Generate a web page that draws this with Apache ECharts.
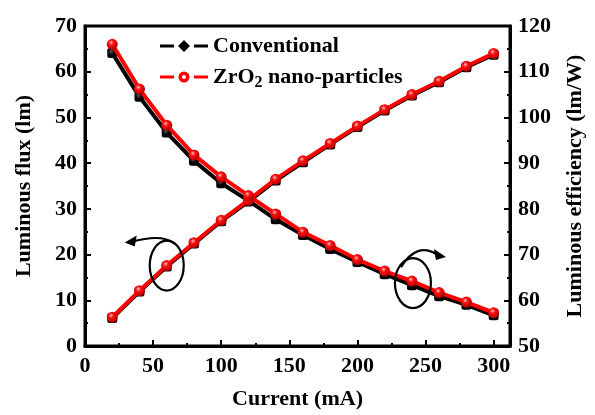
<!DOCTYPE html>
<html><head><meta charset="utf-8">
<script src="https://cdn.jsdelivr.net/npm/echarts@6/dist/echarts.min.js"></script>
<style>html,body{margin:0;padding:0;background:#fff}#c{width:595px;height:415px}</style>
</head><body><div id="c"></div>
<script>
const current = [20,40,60,80,100,120,140,160,180,200,220,240,260,280,300];
const fluxConv = [6.1,11.9,17.4,22.4,27.3,31.6,36.2,40.2,44.1,47.9,51.5,54.8,57.7,61.0,63.7];
const fluxZrO2 = [6.3,12.1,17.6,22.6,27.5,31.9,36.5,40.5,44.3,48.1,51.7,55.0,57.9,61.2,64.0];
const effConv = [114.1,104.5,96.7,90.5,85.6,81.8,77.7,74.3,71.2,68.4,65.7,63.3,60.9,59.0,56.7];
const effZrO2 = [116.0,106.2,98.3,91.8,87.0,82.9,78.9,74.9,72.0,68.9,66.4,64.2,61.7,59.6,57.3];
const xTicks = [0,50,100,150,200,250,300];
const leftTicks = [0,10,20,30,40,50,60,70];
const rightTicks = [50,60,70,80,90,100,110,120];

const F = '"Liberation Serif","Times New Roman",serif';
const chart = echarts.init(document.getElementById('c'), null, {renderer:'canvas'});
const redBall = {type:'radial',x:0.4,y:0.35,r:0.65,colorStops:[{offset:0,color:'#ffc0c0'},{offset:0.35,color:'#ff1010'},{offset:1,color:'#b00000'}]};
const blackBall = {type:'radial',x:0.4,y:0.35,r:0.7,colorStops:[{offset:0,color:'#555'},{offset:0.5,color:'#000'},{offset:1,color:'#000'}]};
const pair = (xs, ys) => xs.map((x,i)=>[x, ys[i]]);
const axisCommon = {
  axisLine:{show:true,lineStyle:{color:'#000',width:3}},
  axisTick:{show:true,inside:true,length:6,lineStyle:{color:'#000',width:2}},
  minorTick:{show:true,splitNumber:2,length:3,lineStyle:{color:'#000',width:2}},
  splitLine:{show:false},
  axisLabel:{color:'#000',fontFamily:F,fontWeight:'bold',fontSize:22},
  nameTextStyle:{color:'#000',fontFamily:F,fontWeight:'bold',fontSize:22}
};
const convIcon = 'path://M0,5 H14 V8 H0 Z M34,5 H48 V8 H34 Z M24,0.5 L30,6.5 L24,12.5 L18,6.5 Z';
const zrIcon = 'path://M0,5 H14 V8 H0 Z M34,5 H48 V8 H34 Z M24,1 A5.5,5.5 0 1 1 23.99,1 Z M24,4.5 A2,2 0 1 0 24.01,4.5 Z';
chart.setOption({
  animation:false,
  grid:{left:85,right:85,top:26,bottom:67,show:true,borderColor:'#000',borderWidth:3,containLabel:false},
  legend:{
    orient:'vertical',left:155,top:30,itemWidth:48,itemHeight:13,itemGap:9,
    data:[{name:'Conventional',icon:convIcon,itemStyle:{color:'#000'}},
          {name:'ZrO2 nano-particles',icon:zrIcon,itemStyle:{color:'#ff0000'}}],
    formatter:function(n){return n==='Conventional'?'{b|Conventional}':'{b|ZrO}{s|2}{b| nano-particles}';},
    textStyle:{rich:{
      b:{fontFamily:F,fontWeight:'bold',fontSize:22,color:'#000'},
      s:{fontFamily:F,fontWeight:'bold',fontSize:16,color:'#000',padding:[12,0,0,0]}
    }}
  },
  xAxis:Object.assign({},axisCommon,{
    type:'value',min:0,max:312,interval:50,
    name:'Current (mA)',nameLocation:'middle',nameGap:42,
    axisLabel:Object.assign({},axisCommon.axisLabel,{margin:9,formatter:v=>xTicks.indexOf(v)>=0?String(v):''})
  }),
  yAxis:[
    Object.assign({},axisCommon,{type:'value',min:0,max:70,interval:10,position:'left',
      name:'Luminous flux (lm)',nameLocation:'middle',nameGap:50,nameRotate:90,
      axisLabel:Object.assign({},axisCommon.axisLabel,{margin:8,formatter:v=>leftTicks.indexOf(v)>=0?String(v):''})}),
    Object.assign({},axisCommon,{type:'value',min:50,max:120,interval:10,position:'right',
      name:'Luminous efficiency (lm/W)',nameLocation:'middle',nameGap:54,nameRotate:90,
      axisLabel:Object.assign({},axisCommon.axisLabel,{margin:8,formatter:v=>rightTicks.indexOf(v)>=0?String(v):''})})
  ],
  series:[
    {name:'Conventional',type:'line',yAxisIndex:0,data:pair(current,fluxConv),symbol:'roundRect',symbolSize:10,
     lineStyle:{color:'#000',width:4},itemStyle:{color:blackBall,borderWidth:0},z:2},
    {name:'Conventional',type:'line',yAxisIndex:1,data:pair(current,effConv),symbol:'roundRect',symbolSize:10,
     lineStyle:{color:'#000',width:4},itemStyle:{color:blackBall,borderWidth:0},z:2},
    {name:'ZrO2 nano-particles',type:'line',yAxisIndex:0,data:pair(current,fluxZrO2),symbol:'circle',symbolSize:11,
     lineStyle:{color:'#ff0000',width:4},itemStyle:{color:redBall,borderWidth:0},z:3},
    {name:'ZrO2 nano-particles',type:'line',yAxisIndex:1,data:pair(current,effZrO2),symbol:'circle',symbolSize:11,
     lineStyle:{color:'#ff0000',width:4},itemStyle:{color:redBall,borderWidth:0},z:3}
  ]
});
// annotation circles and arrows, positioned from data points
const pL = chart.convertToPixel({xAxisIndex:0,yAxisIndex:0},[current[2],fluxZrO2[2]]);
const pR = chart.convertToPixel({xAxisIndex:0,yAxisIndex:1},[current[11],effZrO2[11]]);
const ln = {stroke:'#000',lineWidth:2.2,fill:null};
chart.setOption({graphic:[
  {type:'ellipse',shape:{cx:pL[0],cy:pL[1],rx:17,ry:25},style:ln,z:10},
  {type:'bezierCurve',shape:{x1:pL[0]+8,y1:pL[1]-22,cpx1:pL[0]-5,cpy1:pL[1]-32,x2:pL[0]-34,y2:pL[1]-24},style:ln,z:10},
  {type:'polygon',shape:{points:[[pL[0]-42,pL[1]-23],[pL[0]-30,pL[1]-30],[pL[0]-32,pL[1]-19]]},style:{fill:'#000'},z:10},
  {type:'ellipse',shape:{cx:pR[0]+1,cy:pR[1]+2,rx:18,ry:25},style:ln,z:10},
  {type:'bezierCurve',shape:{x1:pR[0]-11,y1:pR[1]-14,cpx1:pR[0]+5,cpy1:pR[1]-40,x2:pR[0]+26,y2:pR[1]-26},style:ln,z:10},
  {type:'polygon',shape:{points:[[pR[0]+34,pR[1]-24],[pR[0]+22,pR[1]-32],[pR[0]+24,pR[1]-21]]},style:{fill:'#000'},z:10}
]});
</script></body></html>
